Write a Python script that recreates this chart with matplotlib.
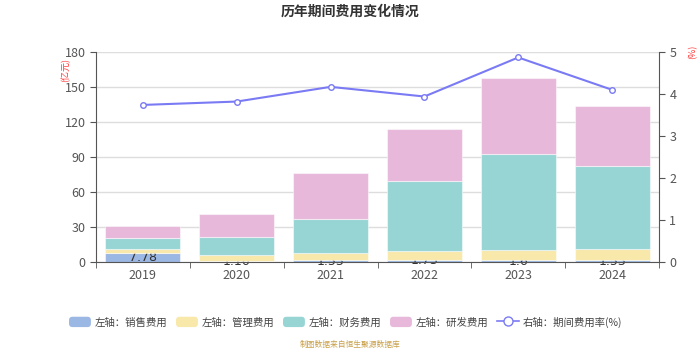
import matplotlib
matplotlib.use("Agg")
import matplotlib.pyplot as plt
import numpy as np
from matplotlib.lines import Line2D
from matplotlib.patches import Patch, FancyBboxPatch
from matplotlib.legend_handler import HandlerPatch

plt.rcParams['font.family'] = ['Noto Sans CJK SC', 'DejaVu Sans']

# 年度及各项费用（亿元）
years = ['2019', '2020', '2021', '2022', '2023', '2024']
sales = [7.78, 1.16, 1.53, 1.73, 1.6, 1.53]
admin = [3.3, 4.5, 6.5, 8.0, 8.7, 9.6]
finance = [9.7, 15.4, 28.9, 60.0, 82.0, 71.5]
rnd = [9.8, 19.8, 39.1, 44.0, 65.4, 50.8]
# 期间费用率（%）
ratio = [3.74, 3.82, 4.17, 3.94, 4.87, 4.10]

series_names = ['左轴：销售费用', '左轴：管理费用', '左轴：财务费用', '左轴：研发费用']
colors = ['#9bb7e3', '#f8e8a9', '#97d4d4', '#e7b8d9']
line_color = '#7a7af5'
tick_color = '#555555'


def rounded_patch(legend, orig_handle, xdescent, ydescent, width, height, fontsize):
    return FancyBboxPatch((-xdescent, -ydescent), width, height,
                          boxstyle='round,pad=0,rounding_size=2.5')


fig = plt.figure(figsize=(7, 3.5), dpi=100)
ax = fig.add_axes([96 / 700, 1 - 262 / 350, (659 - 96) / 700, 210 / 350])

x = np.arange(len(years))
bottom = np.zeros(len(years))
for i, (vals, c) in enumerate(zip([sales, admin, finance, rnd], colors)):
    vals = np.array(vals)
    ax.bar(x, vals, 0.8, bottom=bottom, color=c, edgecolor=(1, 1, 1, 0.5),
           linewidth=0.8, zorder=2 + i)
    if i == 0:
        # 销售费用数值标签，位于柱段中部，被上层柱子遮挡
        for xi, v in zip(x, vals):
            ax.text(xi, v / 2, f'{v:g}', ha='center', va='center', fontsize=9,
                    color='#333333', zorder=2.5, clip_on=False,
                    family=['DejaVu Sans'])
    bottom += vals

ax.set_xlim(-0.5, len(years) - 0.5)
ax.set_ylim(0, 180)
ax.set_yticks(np.arange(0, 181, 30))
ax.set_xticks(x)
ax.set_xticklabels(years)
ax.set_xticks(np.arange(-0.5, len(years), 1), minor=True)
ax.tick_params(axis='x', which='major', length=0, pad=5)
ax.tick_params(axis='x', which='minor', length=4, color=tick_color)
ax.tick_params(axis='both', labelsize=9, labelcolor=tick_color)
ax.tick_params(axis='y', length=4, color=tick_color)
ax.grid(axis='y', color='#dddddd', linewidth=1, zorder=0)
ax.set_axisbelow(True)
for s in ['top', 'right']:
    ax.spines[s].set_visible(False)
for s in ['left', 'bottom']:
    ax.spines[s].set_color(tick_color)

ax2 = ax.twinx()
ax2.plot(x, ratio, color=line_color, linewidth=1.5, marker='o', markersize=4,
         markerfacecolor='white', markeredgecolor=line_color, markeredgewidth=1)
ax2.set_ylim(0, 5)
ax2.set_yticks(np.arange(0, 6, 1))
ax2.tick_params(axis='y', labelsize=9, labelcolor=tick_color, length=4, color=tick_color)
for s in ['top', 'left', 'bottom']:
    ax2.spines[s].set_visible(False)
ax2.spines['right'].set_color(tick_color)

fig.text(66 / 700, 1 - 70 / 350, '(亿元)', rotation=90, color='#ff3333',
         fontsize=6.5, ha='center', va='center')
fig.text(693 / 700, 1 - 52 / 350, '(%)', rotation=90, color='#ff3333',
         fontsize=6.5, ha='center', va='center')

fig.text(0.5, 1 - 12 / 350, '历年期间费用变化情况', ha='center', va='center',
         fontsize=10, fontweight='bold', color='#333333')

handles = [Patch(facecolor=c, edgecolor='none') for c in colors]
handles.append(Line2D([], [], color=line_color, marker='o', markersize=6.5,
                      linewidth=1.2, markerfacecolor='white',
                      markeredgecolor=line_color))
fig.legend(handles, series_names + ['右轴：期间费用率(%)'], loc='center',
           bbox_to_anchor=(0.494, 1 - 322 / 350), ncol=5, frameon=False,
           fontsize=7.5, handlelength=2.1, handleheight=1.15, columnspacing=0.8,
           handletextpad=0.4, labelcolor='#444444',
           handler_map={Patch: HandlerPatch(patch_func=rounded_patch)})

fig.text(0.5, 1 - 345 / 350, '制图数据来自恒生聚源数据库', ha='center', va='center',
         fontsize=5.6, color='#c8a04a')

fig.savefig('out.png', dpi=100)
